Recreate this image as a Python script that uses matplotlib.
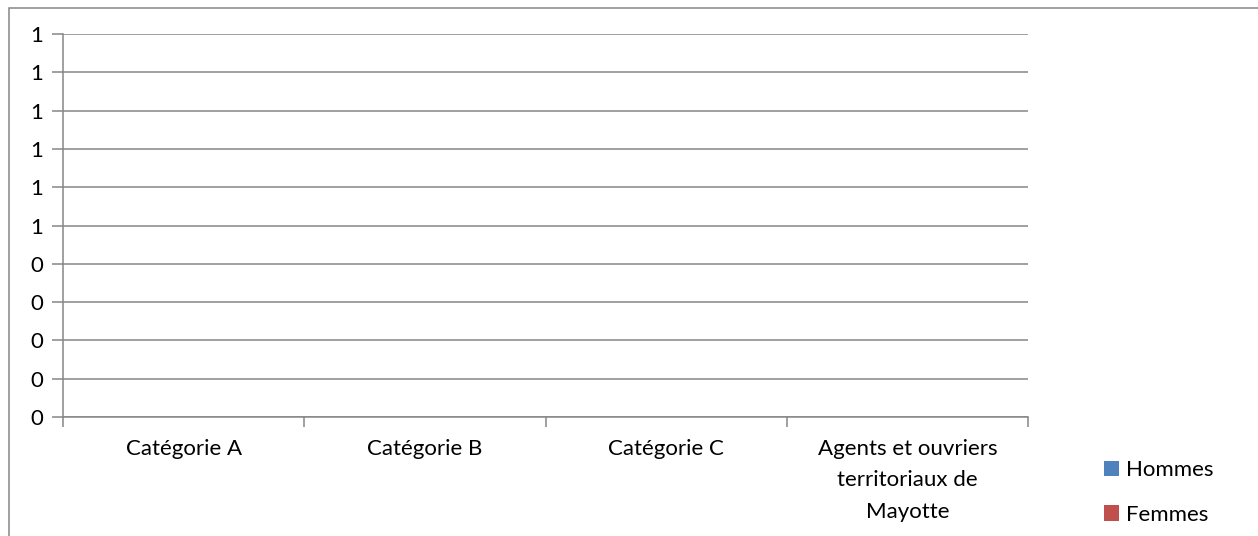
import numpy as np
import matplotlib
matplotlib.use("Agg")
import matplotlib.pyplot as plt
from matplotlib.patches import Rectangle
from matplotlib.ticker import FuncFormatter

# donnees (graphique vide : aucune valeur)
categories = ["Catégorie A", "Catégorie B", "Catégorie C",
              "Agents et ouvriers\nterritoriaux de\nMayotte"]
hommes = [0, 0, 0, 0]
femmes = [0, 0, 0, 0]
series_noms = ["Hommes", "Femmes"]
y_ticks = np.linspace(0, 1, 11)

W, H = 1258, 536
gris = "#868686"
fs = 16
plt.rcParams['font.family'] = ['Lato', 'DejaVu Sans']

fig = plt.figure(figsize=(W / 100, H / 100), dpi=100)
ax = fig.add_axes([63 / W, (H - 417) / H, (1028 - 63) / W, (417 - 34) / H])

x = np.arange(len(categories))
ax.bar(x - 0.15, hommes, width=0.3, color="#4F81BD", label=series_noms[0])
ax.bar(x + 0.15, femmes, width=0.3, color="#C0504D", label=series_noms[1])

ax.set_xlim(-0.5, len(categories) - 0.5)
ax.set_ylim(0, 1)

# arrondi facon excel (0.5 -> 1)
ax.yaxis.set_major_formatter(FuncFormatter(lambda v, p: "%d" % int(np.floor(v + 0.5 + 1e-9))))
ax.set_yticks(y_ticks)
ax.yaxis.grid(True, color=gris, linewidth=1.1)
ax.set_axisbelow(True)
ax.tick_params(axis='y', length=8, width=1.1, color=gris, labelsize=fs, pad=6)

ax.set_xticks(x)
ax.set_xticklabels(categories, linespacing=1.7, va='top')
ax.set_xticks(np.arange(len(categories) + 1) - 0.5, minor=True)
ax.tick_params(axis='x', which='major', length=0, labelsize=fs, pad=16)
ax.tick_params(axis='x', which='minor', length=7, width=1.1, color=gris)

for s in ["top", "right"]:
    ax.spines[s].set_visible(False)
for s in ["left", "bottom"]:
    ax.spines[s].set_color(gris)
    ax.spines[s].set_linewidth(1.1)

fig.legend(loc='upper left', bbox_to_anchor=(1104 / W, 1 - 460 / H), frameon=False,
           fontsize=fs, handlelength=0.68, handleheight=0.68, handletextpad=0.3,
           labelspacing=1.12, borderaxespad=0, borderpad=0)

# cadre du graphique
fig.add_artist(Rectangle((9 / W, -0.1), 2, (H - 8) / H + 0.1, transform=fig.transFigure,
                         fill=False, edgecolor=gris, linewidth=1.1))

fig.savefig("out.png", dpi=100)
